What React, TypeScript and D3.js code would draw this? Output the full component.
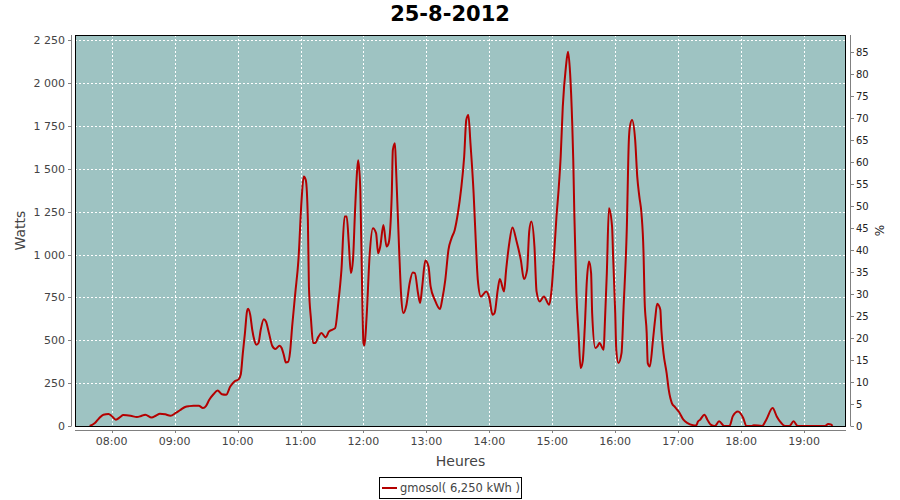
import React from 'react';
import * as d3 from 'd3';

// ---- data ----
const times: string[] = [
  "07:39","07:44","07:48","07:52","07:57","08:00","08:04","08:08","08:11","08:18",
  "08:24","08:28","08:32","08:38","08:42","08:46","08:51","08:56","09:01","09:05",
  "09:10","09:14","09:18","09:23","09:27","09:30","09:33","09:37","09:41","09:45",
  "09:49","09:53","09:57","10:01","10:03","10:05","10:07","10:09","10:10","10:12",
  "10:14","10:16","10:18","10:20","10:22","10:25","10:27","10:30","10:33","10:36",
  "10:40","10:42","10:44","10:46","10:48","10:50","10:52","10:55","10:58","11:01",
  "11:03","11:05","11:07","11:08","11:10","11:12","11:14","11:17","11:20","11:24",
  "11:27","11:30","11:33","11:36","11:39","11:42","11:44","11:46","11:48","11:50",
  "11:52","11:54","11:55","11:57","11:59","12:00","12:01","12:03","12:06","12:09",
  "12:12","12:14","12:16","12:19","12:22","12:24","12:27","12:28","12:30","12:31",
  "12:34","12:36","12:38","12:41","12:44","12:47","12:49","12:52","12:54","12:56",
  "12:59","13:02","13:04","13:08","13:13","13:15","13:18","13:21","13:24","13:27",
  "13:30","13:33","13:36","13:38","13:40","13:42","13:45","13:47","13:49","13:52",
  "13:57","14:00","14:03","14:05","14:08","14:10","14:14","14:16","14:19","14:22",
  "14:26","14:30","14:33","14:36","14:38","14:40","14:43","14:45","14:48","14:52",
  "14:57","14:59","15:02","15:04","15:06","15:08","15:10","15:13","15:15","15:17",
  "15:19","15:20","15:21","15:23","15:25","15:27","15:29","15:31","15:33","15:35",
  "15:37","15:38","15:41","15:43","15:45","15:49","15:50","15:52","15:54","15:57",
  "15:58","16:00","16:01","16:03","16:06","16:08","16:11","16:13","16:14","16:16",
  "16:19","16:21","16:23","16:25","16:27","16:28","16:30","16:31","16:33","16:36",
  "16:38","16:40","16:43","16:44","16:46","16:49","16:51","16:54","16:57","17:01",
  "17:05","17:09","17:14","17:17","17:19","17:21","17:25","17:28","17:31","17:35",
  "17:39","17:44","17:49","17:52","17:57","18:02","18:05","18:10","18:12","18:20",
  "18:24","18:30","18:34","18:37","18:42","18:46","18:50","18:54","19:20","19:23",
  "19:26","19:27"
];
const watts: number[] = [
  0,17,45,66,70,58,37,52,64,60,
  52,58,66,50,60,72,68,60,76,92,
  111,116,118,118,105,118,153,185,207,185,
  182,230,260,272,300,425,542,670,684,650,
  560,500,474,485,560,623,610,540,468,449,
  468,455,416,371,373,430,580,775,969,1319,
  1455,1435,1202,814,620,484,484,520,542,517,
  550,561,571,717,911,1222,1222,1067,892,969,
  1261,1494,1550,1377,697,484,470,639,1008,1154,
  1125,1008,1047,1173,1047,1067,1358,1610,1649,1513,
  1027,755,659,707,833,895,892,775,717,814,
  965,930,814,736,682,736,853,1027,1096,1144,
  1241,1377,1571,1785,1814,1649,1358,1086,853,755,
  785,746,649,659,794,857,785,911,1067,1158,
  1076,969,857,911,1134,1193,1047,785,726,755,
  707,775,1027,1222,1377,1571,1862,2096,2183,2057,
  1766,1552,1241,775,542,338,377,580,853,959,
  892,659,455,464,484,445,580,892,1271,1163,
  988,659,445,367,425,697,1144,1669,1746,1785,
  1669,1455,1338,1241,1008,736,542,367,347,503,
  620,713,678,561,425,309,212,134,110,80,
  37,17,5,3,27,37,66,35,8,0,
  27,0,0,56,85,47,0,0,5,0,
  37,105,56,27,0,0,27,0,0,12,
  8,0
];
const leftTicks: number[] = [0, 250, 500, 750, 1000, 1250, 1500, 1750, 2000, 2250];
const rightTicks: number[] = [0,5,10,15,20,25,30,35,40,45,50,55,60,65,70,75,80,85];
const hourTicks: string[] = ["08:00","09:00","10:00","11:00","12:00","13:00","14:00","15:00","16:00","17:00","18:00","19:00"];
const xStart = "07:25";
const xEnd = "19:40";
const wattsMax = 2281;
const pctMax = 88.9;
const titleText = "25-8-2012";
const seriesLabel = "gmosol( 6,250 kWh )";

const W = 900, H = 500;
const P = { left: 75, right: 846, top: 35, bottom: 426 };
const FONT = "'DejaVu Sans', sans-serif";

function toMin(s: string): number {
  const [h, m] = s.split(':').map(Number);
  return h * 60 + m;
}

export default function App() {
  const x = d3.scaleLinear().domain([toMin(xStart), toMin(xEnd)]).range([P.left, P.right]);
  const y = d3.scaleLinear().domain([0, wattsMax]).range([P.bottom, P.top]);
  const yR = d3.scaleLinear().domain([0, pctMax]).range([P.bottom, P.top]);
  const line = d3.line<number>()
    .x((_, i) => x(toMin(times[i])))
    .y(d => y(d))
    .curve(d3.curveMonotoneX);
  const fmt = (v: number) => d3.format(",")(v).replace(/,/g, ' ');
  const axisCol = '#808080';
  const textCol = '#444444';

  return (
    <div style={{ position: 'absolute', left: 0, top: 0 }}>
      <svg width={W} height={H} style={{ display: 'block', background: '#fff' }}>
        <text x={450} y={21} textAnchor="middle" fontFamily={FONT} fontWeight="bold" fontSize={21} fill="#000">{titleText}</text>
        {/* plot background */}
        <rect x={P.left} y={P.top} width={P.right - P.left} height={P.bottom - P.top} fill="#9ec3c2" />
        {/* grid */}
        {leftTicks.map(v => (
          <line key={'gh' + v} x1={P.left} x2={P.right} y1={Math.round(y(v)) + 0.5} y2={Math.round(y(v)) + 0.5}
            stroke="#fff" strokeWidth={1} strokeDasharray="2,2" />
        ))}
        {hourTicks.map(t => (
          <line key={'gv' + t} x1={Math.round(x(toMin(t))) + 0.5} x2={Math.round(x(toMin(t))) + 0.5} y1={P.top} y2={P.bottom}
            stroke="#fff" strokeWidth={1} strokeDasharray="2,2" />
        ))}
        {/* series */}
        <defs>
          <clipPath id="clipPlot">
            <rect x={P.left} y={P.top} width={P.right - P.left} height={P.bottom - P.top} />
          </clipPath>
        </defs>
        <path d={line(watts) || ''} fill="none" stroke="#b40000" strokeWidth={2} strokeLinejoin="round" clipPath="url(#clipPlot)" />
        {/* plot border */}
        <rect x={P.left + 0.5} y={P.top + 0.5} width={P.right - P.left - 1} height={P.bottom - P.top} fill="none" stroke="#000" strokeWidth={1} />
        {/* left axis */}
        <line x1={71.5} x2={71.5} y1={P.top} y2={P.bottom} stroke={axisCol} />
        {leftTicks.map(v => (
          <g key={'lt' + v}>
            <line x1={68} x2={71.5} y1={Math.round(y(v)) + 0.5} y2={Math.round(y(v)) + 0.5} stroke={axisCol} />
            <text x={65} y={y(v) + 4} textAnchor="end" fontFamily={FONT} fontSize={11} fill={textCol}>{fmt(v)}</text>
          </g>
        ))}
        <text transform={`translate(25,${(P.top + P.bottom) / 2}) rotate(-90)`} textAnchor="middle"
          fontFamily={FONT} fontSize={14} fill={textCol}>Watts</text>
        {/* right axis */}
        <line x1={850.5} x2={850.5} y1={P.top} y2={P.bottom} stroke={axisCol} />
        {rightTicks.map(v => (
          <g key={'rt' + v}>
            <line x1={850.5} x2={854} y1={Math.round(yR(v)) + 0.5} y2={Math.round(yR(v)) + 0.5} stroke={axisCol} />
            <text x={856} y={yR(v) + 4} textAnchor="start" fontFamily={FONT} fontSize={10} fill="#222">{v}</text>
          </g>
        ))}
        <text transform={`translate(884,${(P.top + P.bottom) / 2}) rotate(-90)`} textAnchor="middle"
          fontFamily={FONT} fontSize={12} fill="#222">%</text>
        {/* bottom axis */}
        <line x1={P.left} x2={P.right} y1={430.5} y2={430.5} stroke={axisCol} />
        {hourTicks.map(t => (
          <g key={'bt' + t}>
            <line x1={Math.round(x(toMin(t))) + 0.5} x2={Math.round(x(toMin(t))) + 0.5} y1={430.5} y2={433} stroke={axisCol} />
            <text x={x(toMin(t))} y={445} textAnchor="middle" fontFamily={FONT} fontSize={11} fill={textCol}>{t}</text>
          </g>
        ))}
        <text x={(P.left + P.right) / 2} y={466} textAnchor="middle" fontFamily={FONT} fontSize={14} fill={textCol}>Heures</text>
        {/* legend */}
        <rect x={379.5} y={477.5} width={142} height={21} fill="#fff" stroke="#000" />
        <line x1={382} x2={397} y1={488} y2={488} stroke="#b40000" strokeWidth={2} />
        <text x={400} y={492} fontFamily={FONT} fontSize={11.5} fill={textCol}>{seriesLabel}</text>
      </svg>
    </div>
  );
}
